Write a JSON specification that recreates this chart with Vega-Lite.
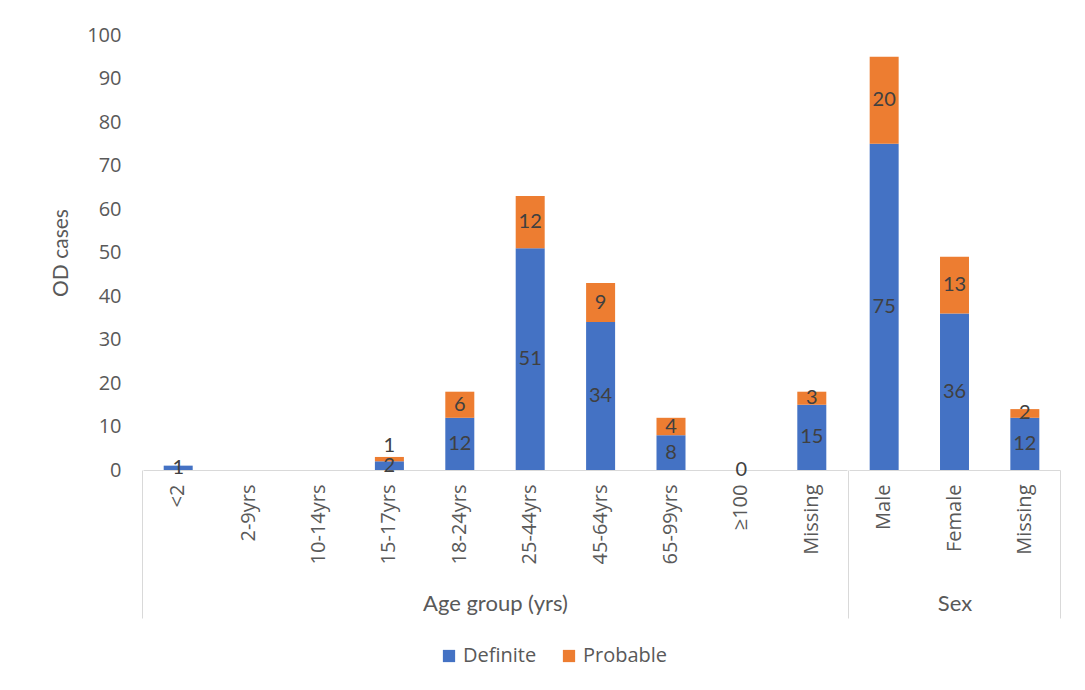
{
  "$schema": "https://vega.github.io/schema/vega-lite/v6.json",
  "background": "white",
  "padding": {"left": 50, "top": 25, "right": 20, "bottom": 5},
  "datasets": {
    "cases": [
      {"group": "Age group (yrs)", "category": "<2", "type": "Definite", "value": 1},
      {"group": "Age group (yrs)", "category": "<2", "type": "Probable", "value": null},
      {"group": "Age group (yrs)", "category": "2-9yrs", "type": "Definite", "value": null},
      {"group": "Age group (yrs)", "category": "2-9yrs", "type": "Probable", "value": null},
      {"group": "Age group (yrs)", "category": "10-14yrs", "type": "Definite", "value": null},
      {"group": "Age group (yrs)", "category": "10-14yrs", "type": "Probable", "value": null},
      {"group": "Age group (yrs)", "category": "15-17yrs", "type": "Definite", "value": 2},
      {"group": "Age group (yrs)", "category": "15-17yrs", "type": "Probable", "value": 1},
      {"group": "Age group (yrs)", "category": "18-24yrs", "type": "Definite", "value": 12},
      {"group": "Age group (yrs)", "category": "18-24yrs", "type": "Probable", "value": 6},
      {"group": "Age group (yrs)", "category": "25-44yrs", "type": "Definite", "value": 51},
      {"group": "Age group (yrs)", "category": "25-44yrs", "type": "Probable", "value": 12},
      {"group": "Age group (yrs)", "category": "45-64yrs", "type": "Definite", "value": 34},
      {"group": "Age group (yrs)", "category": "45-64yrs", "type": "Probable", "value": 9},
      {"group": "Age group (yrs)", "category": "65-99yrs", "type": "Definite", "value": 8},
      {"group": "Age group (yrs)", "category": "65-99yrs", "type": "Probable", "value": 4},
      {"group": "Age group (yrs)", "category": "≥100", "type": "Definite", "value": 0},
      {"group": "Age group (yrs)", "category": "≥100", "type": "Probable", "value": null},
      {"group": "Age group (yrs)", "category": "Missing", "type": "Definite", "value": 15},
      {"group": "Age group (yrs)", "category": "Missing", "type": "Probable", "value": 3},
      {"group": "Sex", "category": "Male", "type": "Definite", "value": 75},
      {"group": "Sex", "category": "Male", "type": "Probable", "value": 20},
      {"group": "Sex", "category": "Female", "type": "Definite", "value": 36},
      {"group": "Sex", "category": "Female", "type": "Probable", "value": 13},
      {"group": "Sex", "category": "Missing", "type": "Definite", "value": 12},
      {"group": "Sex", "category": "Missing", "type": "Probable", "value": 2}
    ]
  },
  "config": {
    "view": {"stroke": null},
    "font": "Lato",
    "axis": {
      "domainColor": "#D9D9D9",
      "labelColor": "#595959",
      "titleColor": "#595959",
      "grid": false,
      "labelFont": "Open Sans",
      "titleFont": "Lato",
      "titleFontWeight": "normal"
    },
    "legend": {
      "labelFont": "Open Sans",
      "labelColor": "#595959"
    }
  },
  "spacing": 0,
  "hconcat": [
    {
      "width": 704,
      "height": 435,
      "data": {"name": "cases"},
      "transform": [
        {"filter": "datum.group === 'Age group (yrs)'"},
        {"stack": "value", "groupby": ["category"], "sort": [{"field": "type", "order": "ascending"}], "as": ["v0", "v1"]},
        {"calculate": "(datum.v0 + datum.v1) / 2", "as": "vmid"}
      ],
      "encoding": {
        "x": {
          "field": "category",
          "type": "nominal",
          "sort": ["<2", "2-9yrs", "10-14yrs", "15-17yrs", "18-24yrs", "25-44yrs", "45-64yrs", "65-99yrs", "≥100", "Missing"],
          "scale": {"paddingInner": 0.588, "paddingOuter": 0.294},
          "axis": {
            "title": "Age group (yrs)",
            "titleFontSize": 22,
            "titlePadding": -25,
            "labelAngle": -90,
            "labelFontSize": 20,
            "labelPadding": -134,
            "bandPosition": -0.7136,
            "tickSize": 148,
            "tickColor": {"condition": {"test": "datum.value === '<2'", "value": "#D9D9D9"}, "value": "transparent"}
          }
        }
      },
      "layer": [
        {
          "mark": {"type": "bar"},
          "encoding": {
            "y": {"field": "v0", "type": "quantitative", "scale": {"domain": [0, 100]},
              "axis": {"title": "OD cases", "titleFontSize": 21, "titlePadding": 15, "labelFontSize": 20, "labelPadding": 22, "ticks": false, "domain": false, "tickCount": 10}},
            "y2": {"field": "v1"},
            "color": {"field": "type", "type": "nominal",
              "scale": {"domain": ["Definite", "Probable"], "range": ["#4472C4", "#ED7D31"]},
              "legend": {"title": null, "orient": "none", "legendX": 296, "legendY": 611, "direction": "horizontal", "symbolType": "square", "symbolSize": 150, "symbolStrokeWidth": 0, "labelFontSize": 20, "columnPadding": 22}}
          }
        },
        {
          "transform": [{"filter": "datum.value != null && !(datum.type === 'Probable' && datum.value <= 1)"}],
          "mark": {"type": "text", "fontSize": 20, "color": "#404040", "font": "Lato"},
          "encoding": {
            "y": {"field": "vmid", "type": "quantitative"},
            "text": {"field": "value", "type": "quantitative"}
          }
        },
        {
          "transform": [{"filter": "datum.value != null && datum.type === 'Probable' && datum.value <= 1"}],
          "mark": {"type": "text", "fontSize": 20, "color": "#404040", "font": "Lato", "baseline": "bottom", "dy": -1},
          "encoding": {
            "y": {"field": "v1", "type": "quantitative"},
            "text": {"field": "value", "type": "quantitative"}
          }
        }
      ]
    },
    {
      "width": 211,
      "height": 435,
      "data": {"name": "cases"},
      "transform": [
        {"filter": "datum.group === 'Sex'"},
        {"stack": "value", "groupby": ["category"], "sort": [{"field": "type", "order": "ascending"}], "as": ["v0", "v1"]},
        {"calculate": "(datum.v0 + datum.v1) / 2", "as": "vmid"}
      ],
      "layer": [
        {
          "mark": {"type": "bar"},
          "encoding": {
            "x": {
              "field": "category",
              "type": "nominal",
              "sort": ["Male", "Female", "Missing"],
              "scale": {"paddingInner": 0.588, "paddingOuter": 0.294},
              "axis": {
                "orient": "bottom",
                "title": "Sex",
                "titleFontSize": 22,
                "titlePadding": -25,
                "labelAngle": -90,
                "labelFontSize": 20,
                "labelPadding": -134,
                "bandPosition": -0.7136,
                "tickSize": 148,
                "tickColor": {"condition": {"test": "datum.value === 'Male'", "value": "#D9D9D9"}, "value": "transparent"}
              }
            },
            "y": {"field": "v0", "type": "quantitative", "scale": {"domain": [0, 100]}, "axis": null},
            "y2": {"field": "v1"},
            "color": {"field": "type", "type": "nominal",
              "scale": {"domain": ["Definite", "Probable"], "range": ["#4472C4", "#ED7D31"]},
              "legend": {"title": null, "orient": "none", "legendX": 296, "legendY": 611, "direction": "horizontal", "symbolType": "square", "symbolSize": 150, "symbolStrokeWidth": 0, "labelFontSize": 20, "columnPadding": 22}}
          }
        },
        {
          "transform": [{"filter": "datum.value != null"}],
          "mark": {"type": "text", "fontSize": 20, "color": "#404040", "font": "Lato"},
          "encoding": {
            "x": {"field": "category", "type": "nominal", "sort": ["Male", "Female", "Missing"], "axis": null},
            "y": {"field": "vmid", "type": "quantitative"},
            "text": {"field": "value", "type": "quantitative"}
          }
        },
        {
          "mark": {"type": "bar", "opacity": 0},
          "encoding": {
            "x": {
              "field": "category",
              "type": "nominal",
              "sort": ["Male", "Female", "Missing"],
              "axis": {
                "orient": "bottom",
                "title": null,
                "labels": false,
                "domain": false,
                "bandPosition": 1.7136,
                "tickSize": 148,
                "tickColor": {"condition": {"test": "datum.value === 'Missing'", "value": "#D9D9D9"}, "value": "transparent"}
              }
            },
            "y": {"field": "v0", "type": "quantitative"},
            "y2": {"field": "v1"}
          }
        }
      ],
      "resolve": {"axis": {"x": "independent"}}
    }
  ],
  "resolve": {"scale": {"color": "shared"}, "legend": {"color": "shared"}}
}
